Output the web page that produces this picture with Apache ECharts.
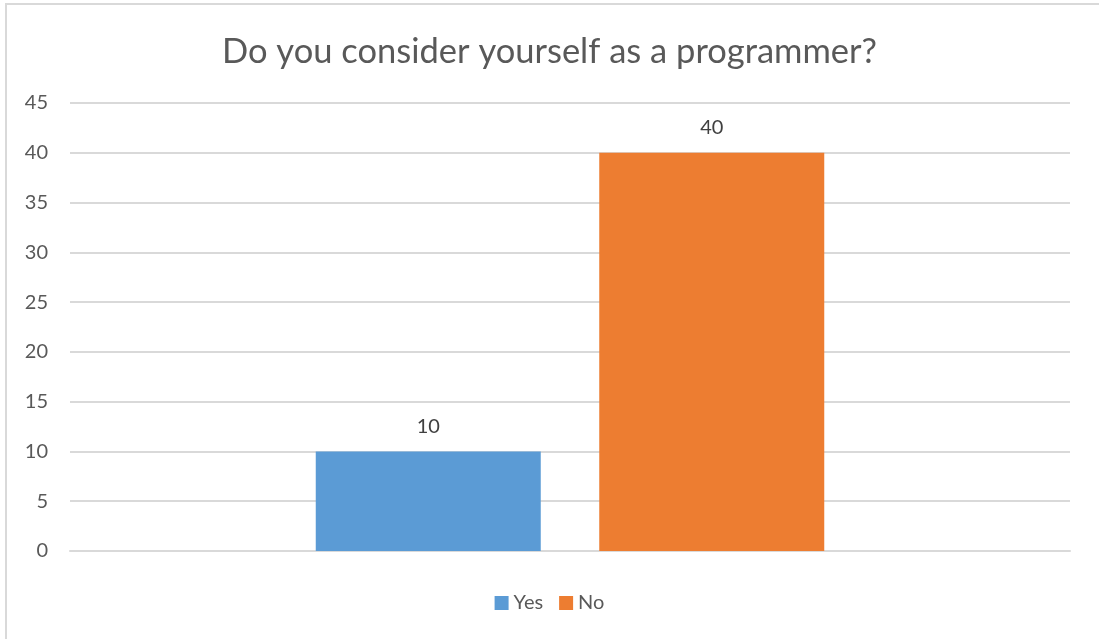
<!DOCTYPE html>
<html><head><meta charset="utf-8">
<script src="https://cdn.jsdelivr.net/npm/echarts@6/dist/echarts.min.js"></script>
<style>html,body{margin:0;padding:0;background:#fff;}#c{width:1099px;height:639px;}
#b{position:absolute;left:5px;top:3px;width:1200px;height:700px;border:2px solid #d9d9d9;pointer-events:none;}</style>
</head><body><div id="c"></div><div id="b"></div>
<script>
const title = 'Do you consider yourself as a programmer?';
const categories = [''];
const seriesNames = ['Yes', 'No'];
const yesValues = [10];
const noValues = [40];
const colors = ['#5B9BD5', '#ED7D31'];
const font = 'Lato, "Open Sans", sans-serif';
const chart = echarts.init(document.getElementById('c'));
const lbl = {show:true, position:'top', distance:15, color:'#404040', fontSize:20, fontFamily:font};
chart.setOption({
  animation:false,
  title:{text:title, left:'center', top:29, textStyle:{fontFamily:font, fontSize:34.5, fontWeight:'normal', color:'#595959'}},
  legend:{bottom:21, left:'center', itemWidth:14, itemHeight:14, itemGap:16, icon:'rect',
    textStyle:{fontFamily:font, fontSize:20, color:'#595959'}, data:seriesNames},
  grid:{left:70, right:29, top:103, bottom:88, containLabel:false},
  xAxis:{type:'category', data:categories, axisLine:{lineStyle:{color:'#d9d9d9', width:2}}, axisTick:{show:false}, axisLabel:{show:false}},
  yAxis:{type:'value', min:0, max:45, interval:5, axisLine:{show:false}, axisTick:{show:false},
    splitLine:{lineStyle:{color:'#d9d9d9', width:2}},
    axisLabel:{margin:22, fontFamily:font, fontSize:20, color:'#595959'}},
  series:[
    {name:seriesNames[0], type:'bar', data:yesValues, barWidth:225, barGap:'26%', itemStyle:{color:colors[0]}, label:lbl},
    {name:seriesNames[1], type:'bar', data:noValues, barWidth:225, barGap:'26%', itemStyle:{color:colors[1]}, label:lbl}
  ]
});
</script></body></html>
